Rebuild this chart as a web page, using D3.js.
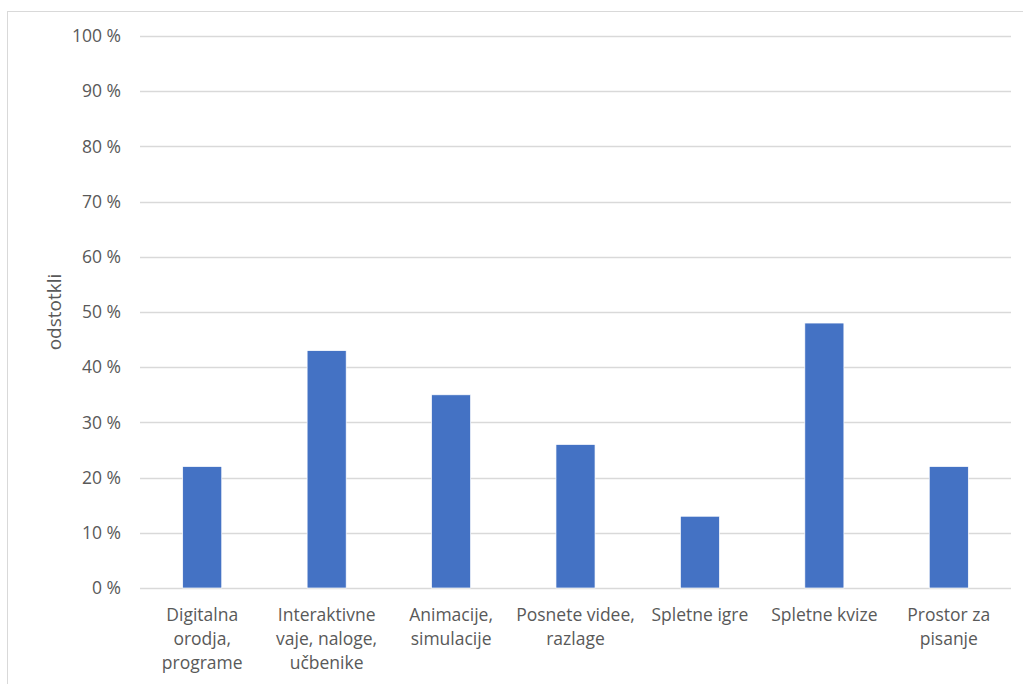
<!DOCTYPE html>
<html>
<head>
<meta charset="utf-8">
<script src="https://cdn.jsdelivr.net/npm/d3@7"></script>
<style>
  body { margin: 0; background: #fff; }
  svg { display: block; font-family: "Open Sans", sans-serif; }
</style>
</head>
<body>
<svg id="chart" width="1023" height="684"></svg>
<script>
// chart data
var categories = [
  ['Digitalna', 'orodja,', 'programe'],
  ['Interaktivne', 'vaje, naloge,', 'učbenike'],
  ['Animacije,', 'simulacije'],
  ['Posnete videe,', 'razlage'],
  ['Spletne igre'],
  ['Spletne kvize'],
  ['Prostor za', 'pisanje']
];
var values = [22, 43, 35, 26, 13, 48, 22];
var yTicks = [0, 10, 20, 30, 40, 50, 60, 70, 80, 90, 100];
var yTitle = 'odstotkli';

var svg = d3.select('#chart');
var margin = { top: 36, right: 12, bottom: 96, left: 140 };
var width = 1023, height = 684;

// outer chart frame
svg.append('rect')
  .attr('x', 7.5).attr('y', 11.5)
  .attr('width', 1030).attr('height', 700)
  .attr('fill', 'none')
  .attr('stroke', '#d9d9d9');

var x = d3.scaleBand()
  .domain(d3.range(categories.length))
  .range([margin.left, width - margin.right])
  .paddingInner(0.686)
  .paddingOuter(0.343);

var y = d3.scaleLinear()
  .domain([0, 100])
  .range([height - margin.bottom, margin.top]);

// gridlines
svg.append('g')
  .selectAll('line')
  .data(yTicks)
  .join('line')
  .attr('x1', margin.left).attr('x2', width - margin.right)
  .attr('y1', function(d) { return Math.round(y(d)) + 0.5; })
  .attr('y2', function(d) { return Math.round(y(d)) + 0.5; })
  .attr('stroke', '#d9d9d9')
  .attr('stroke-width', 1.3);

// y tick labels
svg.append('g')
  .selectAll('text')
  .data(yTicks)
  .join('text')
  .attr('x', 121)
  .attr('y', function(d) { return y(d); })
  .attr('dy', '0.35em')
  .attr('text-anchor', 'end')
  .attr('fill', '#595959')
  .attr('font-size', 17.5)
  .text(function(d) { return d + ' %'; });

// bars
svg.append('g')
  .selectAll('rect')
  .data(values)
  .join('rect')
  .attr('x', function(d, i) { return x(i); })
  .attr('y', function(d) { return y(d); })
  .attr('width', x.bandwidth())
  .attr('height', function(d) { return y(0) - y(d); })
  .attr('fill', '#4472c4')
  .attr('stroke', '#fff')
  .attr('stroke-width', 0.7);

// category labels
var labels = svg.append('g')
  .selectAll('text')
  .data(categories)
  .join('text')
  .attr('x', function(d, i) { return x(i) + x.bandwidth() / 2; })
  .attr('y', 621)
  .attr('text-anchor', 'middle')
  .attr('fill', '#595959')
  .attr('font-size', 17.5);

labels.selectAll('tspan')
  .data(function(d) { return d; })
  .join('tspan')
  .attr('x', function() { return d3.select(this.parentNode).attr('x'); })
  .attr('dy', function(d, i) { return i === 0 ? 0 : 24; })
  .text(function(d) { return d; });

// y axis title
svg.append('text')
  .attr('transform', 'translate(61,' + (y(50) ) + ') rotate(-90)')
  .attr('text-anchor', 'middle')
  .attr('fill', '#595959')
  .attr('font-size', 19)
  .text(yTitle);
</script>
</body>
</html>
